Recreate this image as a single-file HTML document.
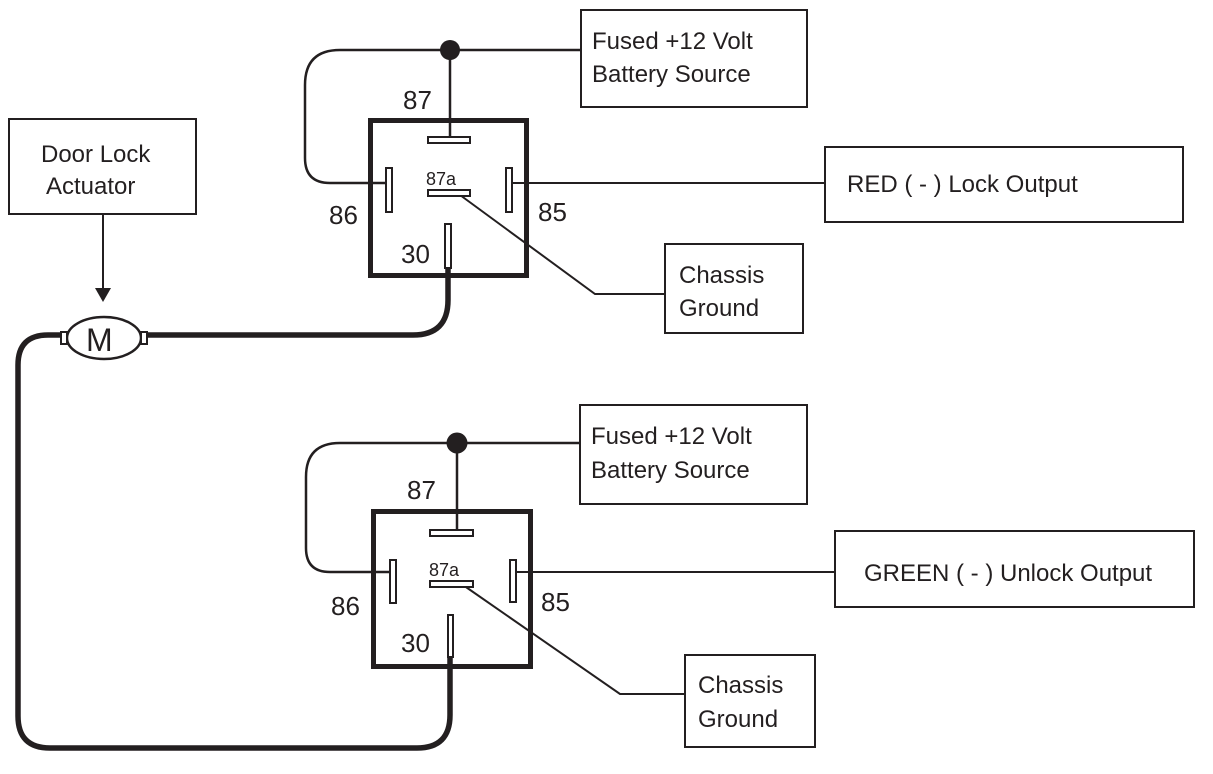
<!DOCTYPE html>
<html><head><style>
body{margin:0;background:#fff}
svg{display:block}
text{font-family:"Liberation Sans",sans-serif;fill:#231f20}
</style></head><body>
<svg width="1213" height="774" viewBox="0 0 1213 774" xmlns="http://www.w3.org/2000/svg">
<g fill="none" stroke="#231f20">
<rect x="581" y="10" width="226" height="97" stroke-width="2"/>
<rect x="9" y="119" width="187" height="95" stroke-width="2"/>
<rect x="825" y="147" width="358" height="75" stroke-width="2"/>
<rect x="665" y="244" width="138" height="89" stroke-width="2"/>
<rect x="580" y="405" width="227" height="99" stroke-width="2"/>
<rect x="835" y="531" width="359" height="76" stroke-width="2"/>
<rect x="685" y="655" width="130" height="92" stroke-width="2"/>
<rect x="370.5" y="120.5" width="156" height="155" stroke-width="5"/>
<path d="M581 50 H340 Q305 50 305 85 V158 Q305 183 330 183 H388" stroke-width="2.5"/>
<path d="M450 50 V140" stroke-width="2.5"/>
<path d="M513 183 H825" stroke-width="2"/>
<path d="M460 195 L595 294 H665" stroke-width="2"/>
<path d="M448 264 V300 Q448 335 413 335 H148" stroke-width="5.5"/>
<g stroke-width="2" fill="#fff">
<rect x="428" y="137" width="42" height="6"/>
<rect x="386" y="168" width="6" height="44"/>
<rect x="506" y="168" width="6" height="44"/>
<rect x="428" y="190" width="42" height="6"/>
<rect x="445" y="224" width="6" height="44"/>
</g>
<rect x="373.5" y="511.5" width="157" height="155" stroke-width="5"/>
<path d="M580 443 H340 Q306 443 306 477 V548 Q306 572 330 572 H392" stroke-width="2.5"/>
<path d="M457 443 V532" stroke-width="2.5"/>
<path d="M516 572 H835" stroke-width="2"/>
<path d="M463 585 L620 694 H685" stroke-width="2"/>
<path d="M450 657 V715 Q450 748 417 748 H50 Q18 748 18 716 V365 Q18 335 48 335 H64" stroke-width="5.5"/>
<g stroke-width="2" fill="#fff">
<rect x="430" y="530" width="43" height="6"/>
<rect x="390" y="560" width="6" height="43"/>
<rect x="510" y="560" width="6" height="42"/>
<rect x="430" y="581" width="43" height="6"/>
<rect x="448" y="615" width="5" height="42"/>
</g>
<path d="M103 214 V292" stroke-width="2"/>
<ellipse cx="104" cy="338" rx="37" ry="21" stroke-width="2.5" fill="#fff"/>
<rect x="61" y="332" width="6" height="12" stroke-width="2" fill="#fff"/>
<rect x="141" y="332" width="6" height="12" stroke-width="2" fill="#fff"/>
</g>
<path d="M95 288 L103 302 L111 288 Z" fill="#231f20"/>
<circle cx="450" cy="50" r="10" fill="#231f20"/>
<circle cx="457" cy="443" r="10.5" fill="#231f20"/>
<g font-size="24">
<text x="592" y="49">Fused +12 Volt</text>
<text x="592" y="82">Battery Source</text>
<text x="41" y="162">Door Lock</text>
<text x="46" y="194">Actuator</text>
<text x="847" y="192">RED ( - ) Lock Output</text>
<text x="679" y="283">Chassis</text>
<text x="679" y="316">Ground</text>
<text x="591" y="444">Fused +12 Volt</text>
<text x="591" y="478">Battery Source</text>
<text x="864" y="581">GREEN ( - ) Unlock Output</text>
<text x="698" y="693">Chassis</text>
<text x="698" y="727">Ground</text>
</g>
<g font-size="26">
<text x="403" y="109">87</text>
<text x="329" y="224">86</text>
<text x="538" y="221">85</text>
<text x="401" y="263">30</text>
<text x="407" y="499">87</text>
<text x="331" y="615">86</text>
<text x="541" y="611">85</text>
<text x="401" y="652">30</text>
<text x="86" y="351" font-size="32">M</text>
</g>
<g font-size="18">
<text x="426" y="185">87a</text>
<text x="429" y="576">87a</text>
</g>
</svg>
</body></html>
